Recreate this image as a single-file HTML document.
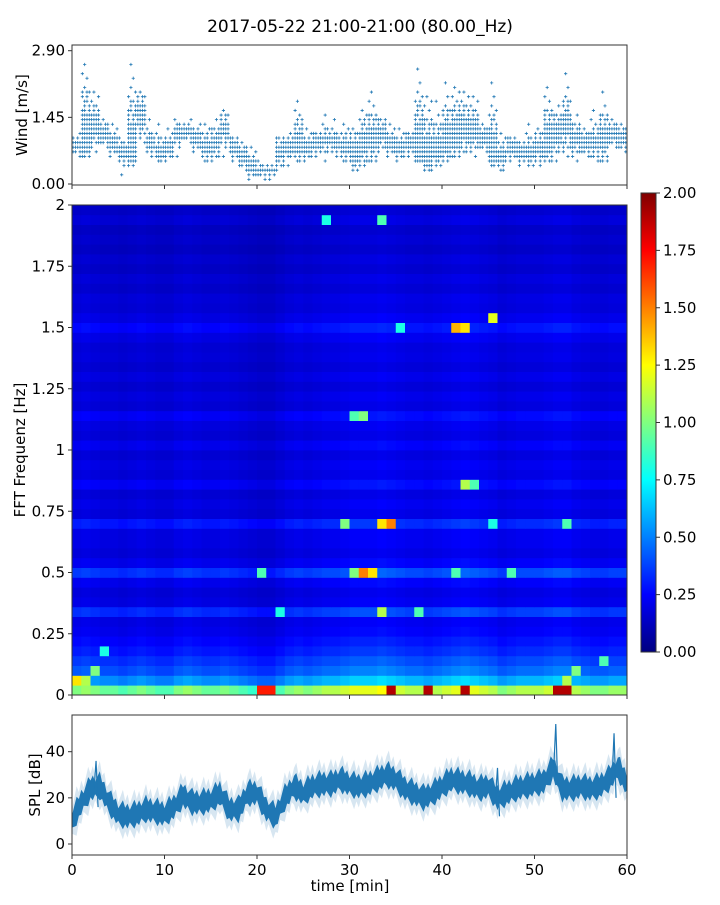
<!DOCTYPE html>
<html><head><meta charset="utf-8">
<style>
body{margin:0;background:#fff;width:720px;height:900px;overflow:hidden;font-family:"Liberation Sans","DejaVu Sans",sans-serif;}
svg text{font-family:"DejaVu Sans","Liberation Sans",sans-serif;fill:#000;}
</style></head>
<body>
<svg id="fig" width="720" height="900" xmlns="http://www.w3.org/2000/svg">
<text x="360" y="32" font-size="17" text-anchor="middle">2017-05-22 21:00-21:00 (80.00_Hz)</text>
<g id="wind"></g>
<g id="heat"></g>
<g id="cbar"></g>
<g id="spl"></g>
</svg>
<script>
// ---- data ----
const windMean=[0.85,1.1,1.3,1.1,0.9,0.7,0.9,1.5,0.9,0.7,0.8,1.1,1.15,1.0,0.8,0.9,1.2,0.8,0.6,0.4,0.3,0.3,0.7,0.8,0.9,0.8,0.9,0.95,0.9,0.8,0.7,0.9,1.0,1.1,0.9,0.8,0.9,0.9,0.7,0.8,1.0,1.1,1.2,1.2,1.0,0.8,0.6,0.8,0.7,0.7,0.8,1.0,1.1,1.3,1.0,0.9,0.9,1.0,1.1,1.0];
const windMax=[1.1,2.9,2.1,1.5,1.3,1.0,2.8,2.4,1.4,1.3,1.2,1.5,1.4,1.3,1.4,1.6,1.9,1.3,1.1,0.8,0.6,0.5,1.3,1.2,1.9,1.3,1.3,1.5,1.4,1.4,1.5,1.9,2.1,1.6,1.4,1.3,1.4,2.7,2.2,1.8,2.3,2.3,2.3,2.0,1.4,2.3,1.2,1.3,1.2,1.3,1.5,2.2,1.9,2.4,1.7,1.4,1.6,2.0,1.4,1.3];
const windMin=[0.5,0.6,0.7,0.6,0.5,0.2,0.4,0.6,0.5,0.5,0.5,0.6,0.7,0.5,0.5,0.5,0.6,0.4,0.3,0.1,0.05,0.1,0.3,0.4,0.5,0.4,0.5,0.5,0.5,0.4,0.3,0.4,0.5,0.5,0.5,0.4,0.5,0.5,0.3,0.4,0.5,0.6,0.6,0.6,0.5,0.4,0.3,0.4,0.3,0.4,0.4,0.5,0.5,0.6,0.5,0.5,0.5,0.5,0.6,0.5];
const splMean=[10,18,24,25,18,13,12,13,15,14,13,16,21,18,18,19,22,15,15,22,22,15,12,20,25,22,25,26,26,28,26,25,26,28,30,28,24,22,20,22,25,28,27,26,24,25,20,22,24,25,26,27,33,24,24,25,24,25,28,33,26];
const splSpikeT=[52.3,58.6,2.6,46];
const splSpikeV=[52,48,36,33];
const rowBase=[1.0,0.55,0.42,0.36,0.3,0.26,0.22,0.2,0.34,0.2,0.18,0.22,0.36,0.22,0.18,0.2,0.2,0.3,0.18,0.2,0.17,0.24,0.18,0.2,0.17,0.22,0.17,0.19,0.24,0.17,0.19,0.16,0.19,0.16,0.18,0.17,0.2,0.26,0.2,0.17,0.18,0.15,0.17,0.14,0.16,0.13,0.15,0.13,0.17,0.14];
const colGain=[1.0,1.05,1.0,0.95,0.95,0.9,0.95,1.0,0.95,0.9,0.9,1.0,1.05,1.0,0.95,0.95,1.0,0.95,0.9,0.85,0.8,0.8,0.9,1.0,1.05,1.0,1.05,1.1,1.1,1.15,1.2,1.2,1.2,1.25,1.2,1.15,1.1,1.1,1.05,1.1,1.15,1.2,1.25,1.2,1.15,1.1,1.0,1.05,1.1,1.1,1.1,1.15,1.2,1.2,1.1,1.05,1.0,1.0,1.05,1.05];
const hotT=[33,34,29,45,53,30,31,32,20,41,47,33,22,37,35,41,42,45,30,31,42,43,33,27,20,21,34,38,42,52,53,53,54,1,2,0,57,3];
const hotF=[17,17,17,17,17,12,12,12,12,12,12,8,8,8,37,37,37,38,28,28,21,21,48,48,0,0,0,0,0,0,0,1,2,1,2,1,3,4];
const hotV=[1.3,1.5,1.0,0.8,0.9,1.0,1.5,1.3,0.9,0.9,0.9,1.1,0.8,0.9,0.8,1.4,1.3,1.2,0.9,1.0,1.1,0.9,0.9,0.8,1.7,1.7,1.9,1.9,1.9,1.9,1.9,1.1,1.0,1.1,1.0,1.3,0.9,0.8];
const timeTicks=[0,10,20,30,40,50,60];
const freqTicks=[0,0.25,0.5,0.75,1,1.25,1.5,1.75,2];
const freqLabels=["0","0.25","0.5","0.75","1","1.25","1.5","1.75","2"];
const windTicks=[0,1.45,2.9];
const splTicks=[0,20,40];
const cbTicks=[0,0.25,0.5,0.75,1,1.25,1.5,1.75,2];

const NS="http://www.w3.org/2000/svg";
function mk(parent,tag,attrs){const e=document.createElementNS(NS,tag);for(const k in attrs)e.setAttribute(k,attrs[k]);parent.appendChild(e);return e;}
const X0=72,X1=627;
const xT=t=>X0+(X1-X0)*t/60;
function jet(v){v=Math.max(0,Math.min(1,v));
 const r=Math.max(0,Math.min(1,Math.min(4*v-1.5,-4*v+4.5)));
 const g=Math.max(0,Math.min(1,Math.min(4*v-0.5,-4*v+3.5)));
 const b=Math.max(0,Math.min(1,Math.min(4*v+0.5,-4*v+2.5)));
 return `rgb(${Math.round(r*255)},${Math.round(g*255)},${Math.round(b*255)})`;}

function xAxis(g,yb,labels){
 timeTicks.forEach(t=>{
  const l=mk(g,'line',{x1:xT(t),x2:xT(t),y1:yb,y2:yb+4,stroke:'#333'});
  
  if(labels){const tx=mk(g,'text',{x:xT(t),y:yb+20,'font-size':15,'text-anchor':'middle'});tx.textContent=t;
   }
 });
}

// ---- wind ----
(function(){
 const g=document.getElementById('wind');const yT=45,yB=185;
 const y=v=>184-(184-50.7)*v/2.9;
 let d='';
 for(let m=0;m<60;m++){
  for(let k=0;k<4;k++){
   const t=m+k*0.25+0.12;
   const lo=windMin[m],hi=windMax[m],mu=windMean[m];
   for(let v=Math.round(lo*10)/10;v<=hi+0.001;v+=0.1){
    const dist=Math.abs(v-mu)/(Math.max(hi-mu,mu-lo)+0.01);
    const s=(k*3+Math.round(v*10)+m)%5;
    if(dist>0.25 && s>2)continue;
    if(dist>0.5 && s>0)continue;
    if(dist>0.75 && k!==1)continue;
    const px=xT(t),py=y(v);
    d+=`M${px-1.6},${py}h3.2M${px},${py-1.6}v3.2`;
   }
  }
 }
 const p=mk(g,'path',{d:d,stroke:'#1f77b4','stroke-width':0.8,fill:'none'});
 
 const fr=mk(g,'rect',{x:X0,y:yT,width:X1-X0,height:yB-yT,fill:'none',stroke:'#333'});
 
 xAxis(g,yB,false);
 windTicks.forEach(v=>{mk(g,'line',{x1:X0-4,x2:X0,y1:y(v),y2:y(v),stroke:'#333'});
  const tx=mk(g,'text',{x:X0-7,y:y(v)+5,'font-size':15,'text-anchor':'end'});tx.textContent=v.toFixed(2);
  });
 const yl=mk(g,'text',{x:27,y:115,'font-size':15,'text-anchor':'middle',transform:'rotate(-90 27 115)'});yl.textContent='Wind [m/s]';
 
})();

// ---- heatmap ----
(function(){
 const g=document.getElementById('heat');const yT=205,yB=695;
 const fy=f=>yB-(yB-yT)*f/2;
 const nR=rowBase.length,nC=colGain.length;
 const grid=[];
 for(let r=0;r<nR;r++){grid.push([]);for(let c=0;c<nC;c++)grid[r].push(rowBase[r]*colGain[c]);}
 for(let i=0;i<hotT.length;i++){grid[hotF[i]][hotT[i]]=hotV[i];}
 const cw=(X1-X0)/nC;
 for(let r=0;r<nR;r++){
  for(let c=0;c<nC;c++){
   const y1=fy((r+1)*2/nR),y0=fy(r*2/nR);
   const rc=mk(g,'rect',{x:X0+c*cw,y:y1,width:cw+0.4,height:y0-y1+0.4,fill:jet(grid[r][c]/2)});
   
  }
 }
 const fr=mk(g,'rect',{x:X0,y:yT,width:X1-X0,height:yB-yT,fill:'none',stroke:'#333'});
 
 xAxis(g,yB,false);
 freqTicks.forEach((f,i)=>{mk(g,'line',{x1:X0-4,x2:X0,y1:fy(f),y2:fy(f),stroke:'#333'});
  const tx=mk(g,'text',{x:X0-7,y:fy(f)+5,'font-size':15,'text-anchor':'end'});tx.textContent=freqLabels[i];
  });
 const yl=mk(g,'text',{x:25,y:450,'font-size':15,'text-anchor':'middle',transform:'rotate(-90 25 450)'});yl.textContent='FFT Frequenz [Hz]';
 
})();

// ---- colorbar ----
(function(){
 const g=document.getElementById('cbar');const x=641,w=15,yT=193,yB=652;
 const defs=mk(g,'defs',{});const lg=mk(defs,'linearGradient',{id:'jetg',x1:0,y1:1,x2:0,y2:0});
 for(let i=0;i<=16;i++){mk(lg,'stop',{offset:i/16,'stop-color':jet(i/16)});}
 const r=mk(g,'rect',{x:x,y:yT,width:w,height:yB-yT,fill:'url(#jetg)',stroke:'#333'});
 
 const cy=v=>yB-(yB-yT)*v/2;
 cbTicks.forEach(v=>{mk(g,'line',{x1:x+w,x2:x+w+4,y1:cy(v),y2:cy(v),stroke:'#333'});
  const tx=mk(g,'text',{x:x+w+7,y:cy(v)+5,'font-size':15});tx.textContent=v.toFixed(2);
  });
})();

// ---- SPL ----
(function(){
 const g=document.getElementById('spl');const yT=715,yB=855;
 const y=v=>844-(844-751.7)*v/40;
 function band(off,jit,fill,op,name){
  let up=[],dn=[];
  for(let i=0;i<=240;i++){
   const t=i/4;const m=Math.min(59,Math.floor(t));const f=t-m;
   let v=splMean[m]*(1-f)+splMean[m+1]*f;
   const j=((i*7)%5-2)*jit;
   up.push(`${xT(t).toFixed(1)},${y(v+off+j).toFixed(1)}`);
   dn.unshift(`${xT(t).toFixed(1)},${y(v-off-j*0.8).toFixed(1)}`);
  }
  const p=mk(g,'polygon',{points:up.concat(dn).join(' '),fill:fill,'fill-opacity':op});
  
 }
 band(8,1.5,'#1f77b4',0.18,'spl-outer-band');
 band(4.5,1.0,'#1f77b4',1,'spl-inner-band');
 for(let i=0;i<splSpikeT.length;i++){
  const t=splSpikeT[i];const m=Math.floor(t);
  const l=mk(g,'path',{d:`M${xT(t)-2},${y(splMean[m])} L${xT(t)},${y(splSpikeV[i])} L${xT(t)+2},${y(splMean[m]-8)}`,stroke:'#1f77b4','stroke-width':1.2,fill:'none'});
  
 }
 const fr=mk(g,'rect',{x:X0,y:yT,width:X1-X0,height:yB-yT,fill:'none',stroke:'#333'});
 
 xAxis(g,yB,true);
 splTicks.forEach(v=>{mk(g,'line',{x1:X0-4,x2:X0,y1:y(v),y2:y(v),stroke:'#333'});
  const tx=mk(g,'text',{x:X0-7,y:y(v)+5,'font-size':15,'text-anchor':'end'});tx.textContent=v;
  });
 const yl=mk(g,'text',{x:40,y:785,'font-size':15,'text-anchor':'middle',transform:'rotate(-90 40 785)'});yl.textContent='SPL [dB]';
 
 const xl=mk(g,'text',{x:350,y:891,'font-size':15,'text-anchor':'middle'});xl.textContent='time [min]';
 
})();
</script>
</body></html>
